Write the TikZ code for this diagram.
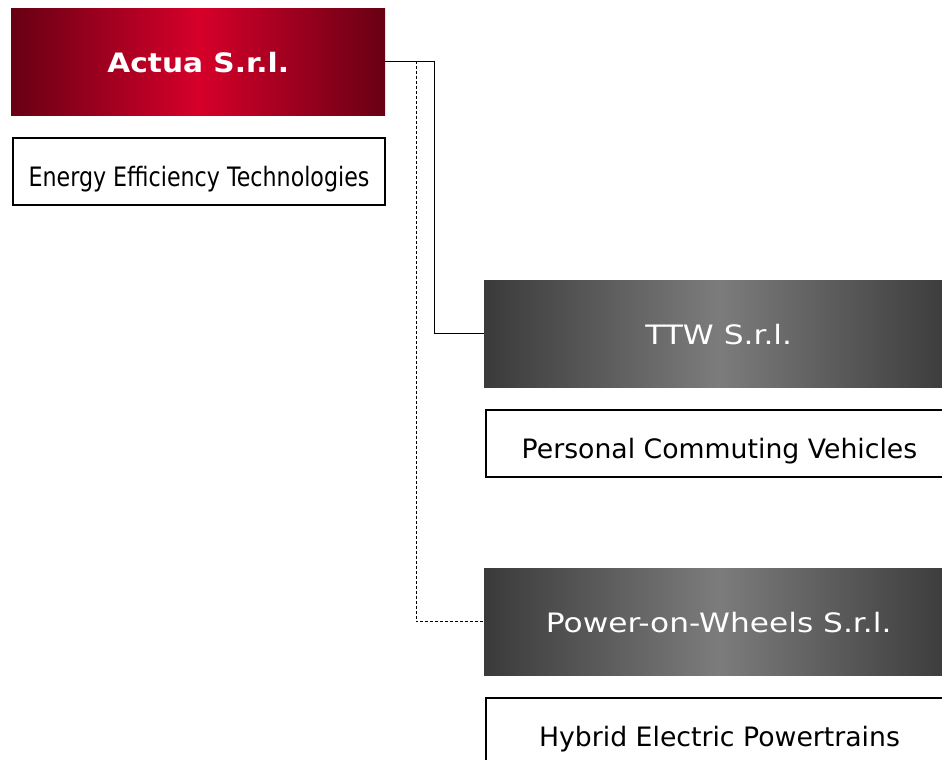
\documentclass[tikz,border=0pt]{standalone}
\usepackage{fontspec}
\setmainfont{DejaVu Sans}
\newfontfamily\headfont[FakeStretch=1.17]{DejaVu Sans}
\newfontfamily\actuafont[FakeStretch=1.11]{DejaVu Sans Bold}
\newfontfamily\descfont{DejaVu Sans}
\newfontfamily\narrowfont[FakeStretch=0.83]{DejaVu Sans}
\begin{document}
\begin{tikzpicture}[x=1pt,y=-1pt,
  headbase/.style={anchor=north west, inner sep=0pt, minimum height=107pt, text=white,
    text height=21.6pt, text depth=0pt},
  redhead/.style={headbase, minimum width=374pt,
    left color=redEdge, right color=redEdge, middle color=redMid,
    font=\actuafont\fontsize{26.7}{30}\selectfont},
  greyhead/.style={headbase, minimum width=469pt,
    left color=greyEdge, right color=greyEdge, middle color=greyMid,
    font=\headfont\fontsize{26.7}{30}\selectfont},
  descbox/.style={anchor=north west, draw=black, line width=2pt, inner sep=0pt,
    minimum height=67pt, text height=29pt, text depth=0pt,
    font=\descfont\fontsize{26.7}{30}\selectfont},
  link/.style={line width=0.8pt, black}
]
\definecolor{redEdge}{HTML}{680014}
\definecolor{redMid}{HTML}{D6002A}
\definecolor{greyEdge}{HTML}{3A3A3A}
\definecolor{greyMid}{HTML}{7C7C7C}
\useasboundingbox (0,0) rectangle (942,760);
\clip (0,0) rectangle (942,760);
\fill[white] (0,0) rectangle (942,760);

\node[redhead] (actua) at (11,8) {Actua S.r.l.};
\node[descbox, minimum width=372pt, font=\narrowfont\fontsize{26.7}{30}\selectfont] (eet) at (12,137) {Energy Efficiency Technologies};

\node[greyhead] (ttw) at (484,280) {TTW S.r.l.};
\node[descbox, minimum width=467pt] (pcv) at (485,409) {Personal Commuting Vehicles};

\node[greyhead] (pow) at (484,568) {Power-on-Wheels S.r.l.};
\node[descbox, minimum width=467pt] (hep) at (485,697) {Hybrid Electric Powertrains};

\draw[link] (actua.east) -- ++(49,0) |- (ttw.west);
\draw[link, dash pattern=on 3pt off 2pt] (actua.east) -- ++(31,0) |- (pow.west);
\end{tikzpicture}
\end{document}
